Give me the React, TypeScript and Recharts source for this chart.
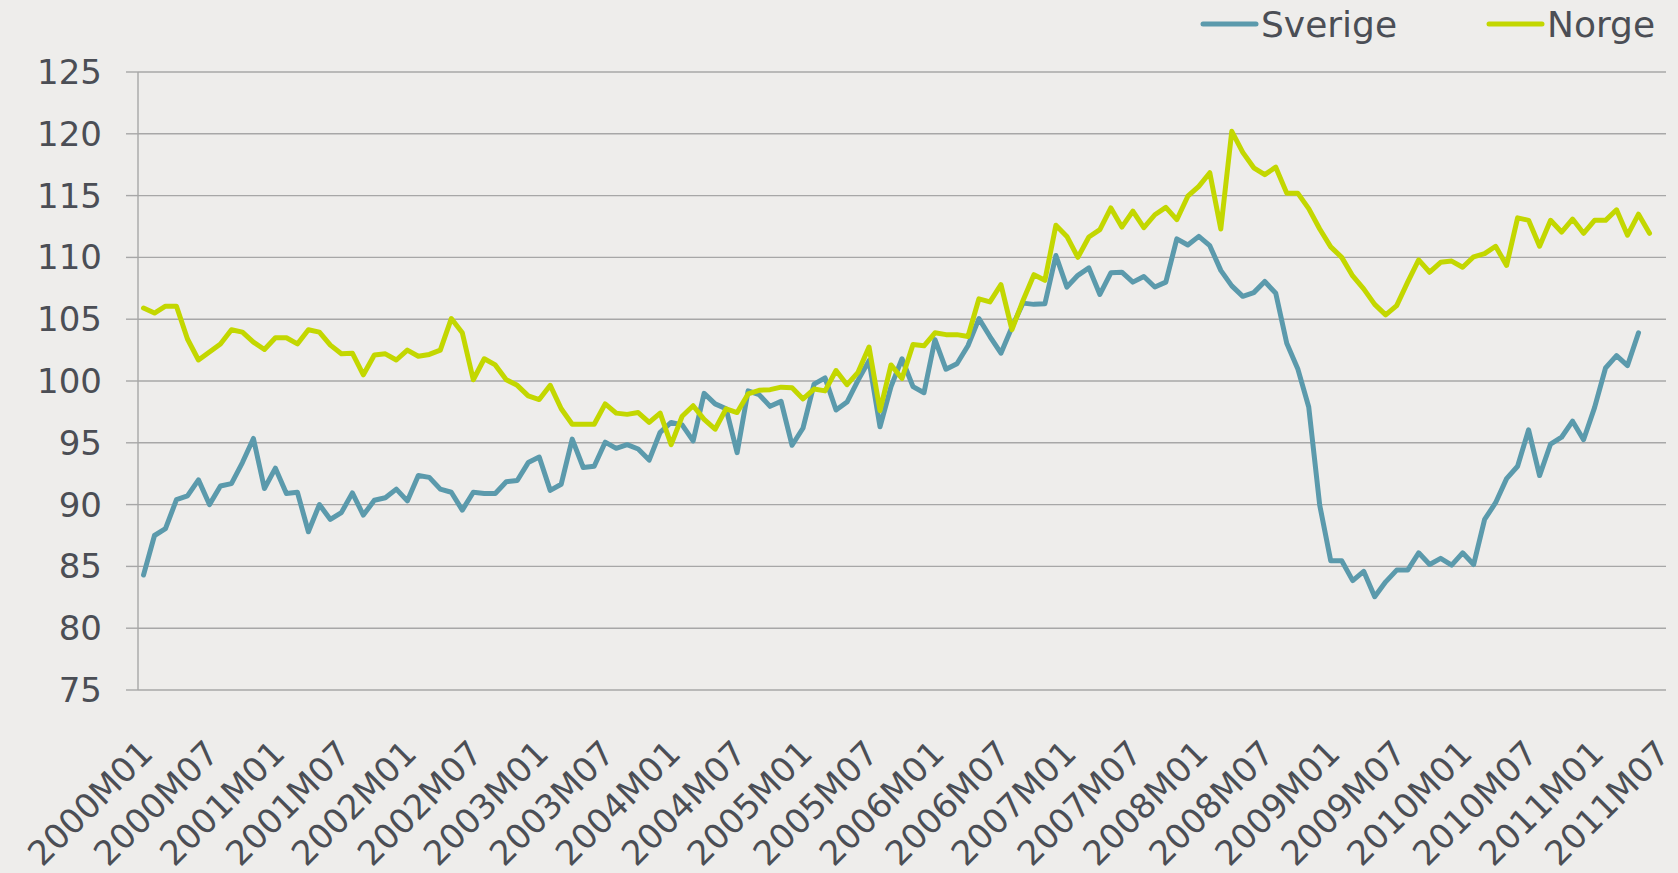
import { CartesianGrid, Line, LineChart, XAxis, YAxis } from "recharts";

// monthly categories, 2000M01 .. 2011M07
const lastMonth = "2011M07";
const months: string[] = [];
for (let y = 2000; y <= 2011; y++) {
  for (let m = 1; m <= 12; m++) {
    const label = `${y}M${String(m).padStart(2, "0")}`;
    months.push(label);
    if (label === lastMonth) break;
  }
}

const tickLabels = [
  "2000M01", "2000M07", "2001M01", "2001M07", "2002M01", "2002M07",
  "2003M01", "2003M07", "2004M01", "2004M07", "2005M01", "2005M07",
  "2006M01", "2006M07", "2007M01", "2007M07", "2008M01", "2008M07",
  "2009M01", "2009M07", "2010M01", "2010M07", "2011M01", "2011M07"
];

const yTicks = [75, 80, 85, 90, 95, 100, 105, 110, 115, 120, 125];

const sverige = [
  84.3, 87.5, 88.05, 90.4, 90.7, 92.0, 90.0, 91.5, 91.7, 93.4, 95.35, 91.3,
  92.95, 90.9, 91.0, 87.8, 90.0, 88.8, 89.35, 90.95, 89.15, 90.35, 90.55, 91.25,
  90.3, 92.35, 92.2, 91.25, 91.0, 89.55, 91.0, 90.9, 90.9, 91.85, 91.95, 93.4,
  93.85, 91.15, 91.65, 95.3, 93.0, 93.1, 95.05, 94.55, 94.85, 94.5, 93.6, 95.85,
  96.65, 96.45, 95.15, 99.0, 98.15, 97.75, 94.2, 99.2, 98.9, 97.95, 98.35, 94.8,
  96.2, 99.75, 100.25, 97.65, 98.3, 100.05, 101.65, 96.3, 99.55, 101.8, 99.55, 99.05,
  103.35, 100.95, 101.4, 102.85, 105.05, 103.6, 102.25, 104.35, 106.3, 106.2, 106.25, 110.15,
  107.6, 108.55, 109.15, 107.0, 108.75, 108.8, 108.0, 108.45, 107.6, 108.0, 111.5, 111.0,
  111.7, 110.95, 108.95, 107.7, 106.85, 107.15, 108.05, 107.1, 103.05, 101.0, 97.9, 89.95,
  85.45, 85.45, 83.85, 84.6, 82.55, 83.75, 84.7, 84.7, 86.1, 85.15, 85.65, 85.1,
  86.1, 85.15, 88.8, 90.15, 92.1, 93.1, 96.05, 92.35, 94.9, 95.45, 96.75, 95.25,
  97.85, 101.05, 102.05, 101.25, 103.9
];

const norge = [
  105.9, 105.5, 106.05, 106.05, 103.4, 101.7, 102.35, 103.0, 104.15, 103.95, 103.15, 102.55,
  103.5, 103.5, 103.0, 104.15, 103.95, 102.9, 102.2, 102.25, 100.5, 102.1, 102.2, 101.7,
  102.5, 102.0, 102.15, 102.5, 105.05, 103.9, 100.1, 101.8, 101.3, 100.1, 99.65, 98.8,
  98.5, 99.65, 97.75, 96.5, 96.5, 96.5, 98.15, 97.4, 97.3, 97.45, 96.65, 97.4,
  94.85, 97.15, 98.0, 96.9, 96.1, 97.75, 97.45, 98.95, 99.25, 99.3, 99.5, 99.45,
  98.55, 99.35, 99.2, 100.85, 99.7, 100.7, 102.75, 97.6, 101.3, 100.2, 102.95, 102.85,
  103.9, 103.75, 103.75, 103.6, 106.65, 106.4, 107.8, 104.15, 106.5, 108.6, 108.15, 112.6,
  111.7, 110.0, 111.65, 112.25, 114.0, 112.45, 113.75, 112.4, 113.45, 114.05, 113.05, 114.95,
  115.75, 116.85, 112.3, 120.2, 118.5, 117.25, 116.7, 117.3, 115.2, 115.2, 113.95, 112.3,
  110.85, 110.0, 108.5, 107.45, 106.2, 105.35, 106.1, 108.0, 109.8, 108.8, 109.6, 109.7,
  109.2, 110.05, 110.3, 110.9, 109.35, 113.2, 113.0, 110.9, 113.0, 112.05, 113.1, 111.95,
  113.0, 113.0, 113.85, 111.8, 113.5, 111.95
];

const data = months.map((month, i) => ({
  month,
  pos: i + 0.5,
  sverige: sverige[i] ?? null,
  norge: norge[i] ?? null
}));

const labelTicks = tickLabels.map((l) => months.indexOf(l) + 0.5);
const boundaryTicks = [...months.map((_, i) => i), months.length];

const BG = "#eeedeb";
const TEXT = "#4b4e55";
const GRID = "#a7a7a7";
const SVERIGE = "#5b9aac";
const NORGE = "#c3d700";
const FONT = "'DejaVu Sans', Verdana, sans-serif";

function MonthTick({ x, y, payload }: any) {
  const label = months[Math.floor(payload.value)];
  return (
    <g transform={`translate(${x - 6},${y}) rotate(-45)`}>
      <text x={0} y={0} dy="0.72em" textAnchor="end" fill={TEXT} fontSize={34} fontFamily={FONT}>
        {label}
      </text>
    </g>
  );
}

export default function App() {
  return (
    <div style={{ position: "absolute", left: 0, top: 0, width: 1678, height: 873, background: BG }}>
      <LineChart
        width={1678}
        height={873}
        data={data}
        margin={{ top: 72, right: 12, bottom: 13, left: 0 }}
      >
        <CartesianGrid vertical={false} stroke={GRID} strokeWidth={1.4} />
        <XAxis
          xAxisId={0}
          dataKey="pos"
          type="number"
          domain={[0, months.length]}
          ticks={boundaryTicks}
          interval={0}
          tick={false}
          tickSize={12}
          height={0}
          stroke={GRID}
          strokeWidth={1.4}
        />
        <XAxis
          xAxisId="labels"
          dataKey="pos"
          type="number"
          domain={[0, months.length]}
          ticks={labelTicks}
          interval={0}
          axisLine={false}
          tickLine={false}
          tickSize={0}
          tickMargin={48}
          height={170}
          tick={<MonthTick />}
        />
        <YAxis
          domain={[75, 125]}
          ticks={yTicks}
          interval={0}
          width={138}
          tickSize={12}
          tickMargin={24}
          stroke={GRID}
          strokeWidth={1.4}
          tick={{ fill: TEXT, fontSize: 34, fontFamily: FONT }}
        />
        <Line
          dataKey="sverige"
          name="Sverige"
          type="linear"
          stroke={SVERIGE}
          strokeWidth={5}
          strokeLinejoin="round"
          strokeLinecap="round"
          dot={false}
          isAnimationActive={false}
        />
        <Line
          dataKey="norge"
          name="Norge"
          type="linear"
          stroke={NORGE}
          strokeWidth={5}
          strokeLinejoin="round"
          strokeLinecap="round"
          dot={false}
          isAnimationActive={false}
        />
      </LineChart>
      <svg width={1678} height={60} style={{ position: "absolute", left: 0, top: 0 }}>
        <line x1={1203} x2={1256} y1={24} y2={24} stroke={SVERIGE} strokeWidth={5} strokeLinecap="round" />
        <text x={1261} y={37} fill={TEXT} fontSize={36} fontFamily={FONT}>Sverige</text>
        <line x1={1489} x2={1542} y1={24} y2={24} stroke={NORGE} strokeWidth={5} strokeLinecap="round" />
        <text x={1547} y={37} fill={TEXT} fontSize={36} fontFamily={FONT}>Norge</text>
      </svg>
    </div>
  );
}
